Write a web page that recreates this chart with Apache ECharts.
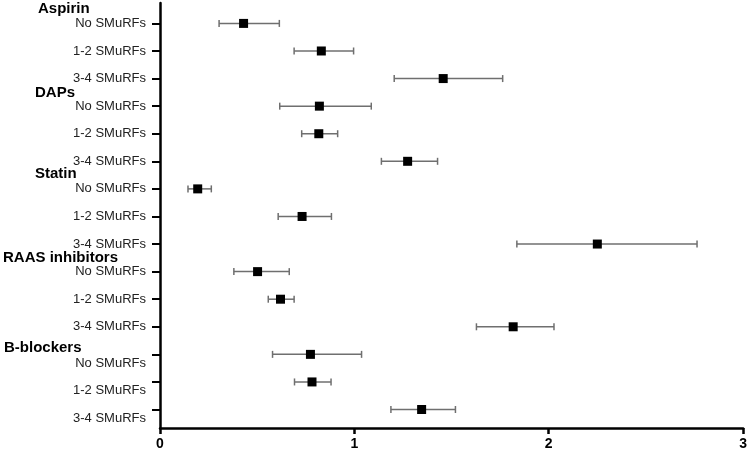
<!DOCTYPE html>
<html>
<head>
<meta charset="utf-8">
<script src="https://cdn.jsdelivr.net/npm/echarts@6/dist/echarts.min.js"></script>
<style>
html,body{margin:0;padding:0;background:#fff;}
#chart{width:750px;height:454px;}
</style>
</head>
<body>
<div id="chart"></div>
<script>
const categories = [
  'No SMuRFs','1-2 SMuRFs','3-4 SMuRFs',
  'No SMuRFs','1-2 SMuRFs','3-4 SMuRFs',
  'No SMuRFs','1-2 SMuRFs','3-4 SMuRFs',
  'No SMuRFs','1-2 SMuRFs','3-4 SMuRFs',
  'No SMuRFs','1-2 SMuRFs','3-4 SMuRFs'
];
const groups = ['Aspirin','DAPs','Statin','RAAS inhibitors','B-blockers'];
const estimates = [0.430,0.830,1.457, 0.820,0.817,1.274, 0.194,0.731,2.250, 0.502,0.620,1.817, 0.774,0.782,1.346];
const lower     = [0.304,0.690,1.205, 0.616,0.729,1.139, 0.144,0.608,1.836, 0.380,0.557,1.628, 0.579,0.692,1.188];
const upper     = [0.614,0.996,1.763, 1.087,0.914,1.428, 0.264,0.882,2.763, 0.665,0.690,2.027, 1.037,0.880,1.520];
const xTicks = [0,1,2,3];

const FONT = '"Liberation Sans", Arial, Helvetica, sans-serif';
const YMIN = -0.74, YMAX = 14.67;
const tickVals = categories.map((c,i)=>i);
const labelVals = categories.map((c,i)=> i + (i>=12 ? 0.32 : 0));
const headPos = [-0.52, 2.52, 5.47, 8.5, 11.78];
const headPad = [35, 32, 32, 0, 1];

const rich = {};
groups.forEach((g,i)=>{
  rich['h'+i] = {fontFamily:FONT,fontSize:15,fontWeight:'bold',color:'#000',padding:[0,0,0,headPad[i]]};
});

const chart = echarts.init(document.getElementById('chart'));
chart.setOption({
  animation:false,
  backgroundColor:'#fff',
  grid:{left:159,right:6,top:3,bottom:26,containLabel:false},
  xAxis:{
    type:'value',min:xTicks[0],max:xTicks[xTicks.length-1],interval:1,position:'bottom',
    axisLine:{show:true,onZero:false,lineStyle:{color:'#000',width:2.5}},
    axisTick:{show:true,length:6,lineStyle:{color:'#000',width:2.5}},
    splitLine:{show:false},
    axisLabel:{color:'#000',fontFamily:FONT,fontSize:14,fontWeight:'bold',margin:9,
      formatter:v=>String(v)}
  },
  yAxis:[{
    type:'value',inverse:true,min:YMIN,max:YMAX,
    axisLine:{show:true,onZero:false,lineStyle:{color:'#000',width:2.5}},
    axisTick:{show:true,length:8,customValues:tickVals,lineStyle:{color:'#000',width:2}},
    splitLine:{show:false},
    axisLabel:{color:'#222',fontFamily:FONT,fontSize:13,margin:14,
      customValues:labelVals,
      formatter:v=>categories[Math.round(v)] || ''}
  },{
    type:'value',inverse:true,min:YMIN,max:YMAX,position:'left',
    axisLine:{show:false},axisTick:{show:false},splitLine:{show:false},
    axisLabel:{align:'left',margin:157,customValues:headPos,rich:rich,
      formatter:v=>{
        const i = headPos.findIndex(p=>Math.abs(p-v)<1e-6);
        return i>=0 ? '{h'+i+'|'+groups[i]+'}' : '';
      }}
  }],
  series:[{
    type:'custom',
    xAxisIndex:0,yAxisIndex:0,
    data:categories.map((c,i)=>[lower[i],upper[i],i]),
    renderItem:function(params,api){
      const lo = api.coord([api.value(0),api.value(2)]);
      const hi = api.coord([api.value(1),api.value(2)]);
      const h = 3.5;
      const st = {stroke:'#6f6f6f',lineWidth:1.5};
      return {type:'group',children:[
        {type:'line',shape:{x1:lo[0],y1:lo[1],x2:hi[0],y2:hi[1]},style:st},
        {type:'line',shape:{x1:lo[0],y1:lo[1]-h,x2:lo[0],y2:lo[1]+h},style:st},
        {type:'line',shape:{x1:hi[0],y1:hi[1]-h,x2:hi[0],y2:hi[1]+h},style:st}
      ]};
    },
    z:2
  },{
    type:'scatter',
    xAxisIndex:0,yAxisIndex:0,
    symbol:'rect',symbolSize:9,
    itemStyle:{color:'#000',opacity:1},
    data:categories.map((c,i)=>[estimates[i],i]),
    z:3
  }]
});
</script>
</body>
</html>
